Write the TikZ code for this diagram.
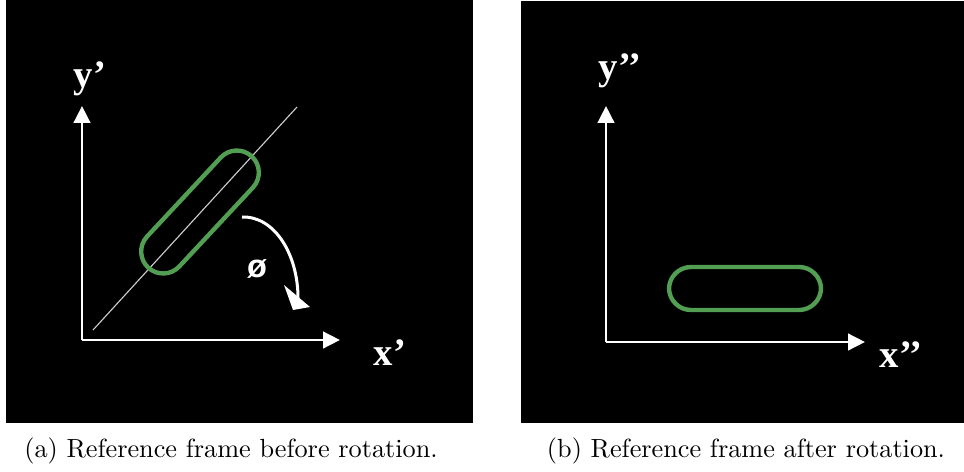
\documentclass[tikz,border=0pt]{standalone}
\usepackage{fontspec}
\newfontfamily\axfont{Liberation Serif}
\newfontfamily\phifont{Liberation Sans}
\usetikzlibrary{arrows.meta}
\definecolor{stadgreen}{RGB}{82,158,82}
\definecolor{diaggray}{RGB}{205,205,205}
\begin{document}
\begin{tikzpicture}[x=0.4pt,y=-0.4pt,
  axis/.style={white, line width=1.15pt, -{Triangle[width=6.6pt,length=6.8pt]}},
  axlabel/.style={text=white, font=\axfont\bfseries\fontsize{15.5}{18}\selectfont, inner sep=0pt, anchor=base},
  stad/.style={draw=stadgreen, line width=1.75pt, rounded corners=8.8pt},
  rotarrow/.style={white, line width=1.2pt},
  capt/.style={font=\fontsize{10.5}{12.5}\selectfont, inner sep=0pt, anchor=base}]
\useasboundingbox (0,0) rectangle (964,472);
\fill[white] (0,0) rectangle (964,472);
\fill[black] (6,0) rectangle (473,423);
\fill[black] (521,1) rectangle (964,423);
% ---- panel (a)
\coordinate (oA) at (82,340);
\coordinate (yA) at (82,106);
\coordinate (xA) at (340,340);
\draw[axis] (oA) -- (yA);
\draw[axis] (oA) -- (xA);
\node[axlabel] (ylA) at (90,88) {y’};
\node[axlabel] (xlA) at (390,365) {x’};
\coordinate (dA) at (93,330);
\coordinate (dB) at (297,107);
\draw[diaggray, line width=0.45pt] (dA) -- (dB);
\begin{scope}[shift={(200,212)}, rotate=47]
  \draw[stad] (-76,-22) rectangle (76,22);
\end{scope}
\coordinate (rs) at (242,217);
\coordinate (re) at (298,298);
\draw[rotarrow] (rs) .. controls (275,216) and (298,255) .. (re);
\fill[white] (284,285) -- (310,307) -- (293,310) -- cycle;
\node[text=white, font=\phifont\bfseries\fontsize{13}{15}\selectfont, inner sep=0pt] (phi) at (257,269) {ø};
\node[capt] (capA) at (231,457) {(a) Reference frame before rotation.};
% ---- panel (b)
\coordinate (oB) at (606,342);
\coordinate (yB) at (606,106);
\coordinate (xB) at (865,342);
\draw[axis] (oB) -- (yB);
\draw[axis] (oB) -- (xB);
\node[axlabel] (ylB) at (620,80) {y’’};
\node[axlabel] (xlB) at (901,367) {x’’};
\draw[stad] (669,267) rectangle (821,310);
\node[capt] (capB) at (746,457) {(b) Reference frame after rotation.};
\end{tikzpicture}
\end{document}
